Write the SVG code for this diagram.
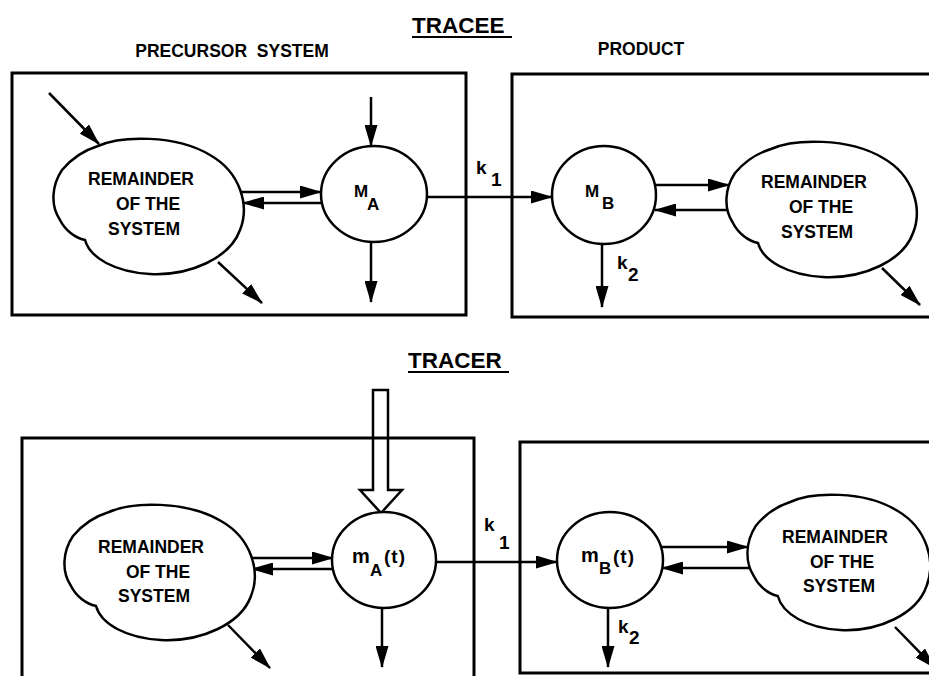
<svg xmlns="http://www.w3.org/2000/svg" width="929" height="676" viewBox="0 0 929 676">
<style>
text{font-family:"Liberation Sans",Arial,sans-serif;font-weight:bold;fill:#000}
.t{font-size:17.5px;text-anchor:middle}
.h{font-size:22.5px}
.lab{font-size:17px}
.k{font-size:19px}
.box{fill:none;stroke:#000;stroke-width:3}
.node{fill:#fff;stroke:#000;stroke-width:2.5}
.c{fill:none;stroke:#000;stroke-width:2.5;marker-end:url(#ah)}
.u{stroke:#000;stroke-width:2}
</style>
<defs>
<marker id="ah" markerUnits="userSpaceOnUse" markerWidth="22" markerHeight="13" viewBox="0 0 22 13" refX="21" refY="6.5" orient="auto">
<path d="M0,0 L22,6.5 L0,13 Z" fill="#000"/>
</marker>
<path id="blob" d="M 44,7 C 66,-3 121,-5 156,16 C 186,33 196,66 186,91 C 176,119 136,137 96,135 C 61,133 36,119 31,101 C 21,99 11,91 6,81 C -4,66 -2,46 8,31 C 18,19 31,11 44,7 Z"/>
</defs>

<g id="titles">
<text class="h" x="412" y="33">TRACEE</text>
<line class="u" x1="412" y1="37" x2="512" y2="37"/>
<text class="t" x="232" y="57" style="white-space:pre">PRECURSOR  SYSTEM</text>
<text class="t" x="641" y="55">PRODUCT</text>
<text class="h" x="408" y="368">TRACER</text>
<line class="u" x1="408" y1="372" x2="509" y2="372"/>
</g>

<g id="boxes">
<rect id="box-precursor-tracee" class="box" x="12" y="73" width="454" height="242"/>
<rect id="box-product-tracee" class="box" x="512" y="74" width="440" height="243"/>
<rect id="box-precursor-tracer" class="box" x="22" y="438" width="452" height="260"/>
<rect id="box-product-tracer" class="box" x="520" y="442" width="440" height="231"/>
</g>

<g id="connectors">
<line class="c" x1="49" y1="93" x2="99" y2="144"/>
<line class="c" x1="218" y1="262" x2="262" y2="303"/>
<line class="c" x1="238" y1="192" x2="321" y2="192"/>
<line class="c" x1="321" y1="203" x2="243" y2="203"/>
<line class="c" x1="371" y1="97" x2="371" y2="146"/>
<line class="c" x1="371" y1="242" x2="371" y2="302"/>
<line class="c" x1="427" y1="197" x2="552" y2="197"/>
<line class="c" x1="655" y1="185" x2="729" y2="185"/>
<line class="c" x1="730" y1="210" x2="655" y2="210"/>
<line class="c" x1="602" y1="244" x2="602" y2="307"/>
<line class="c" x1="882" y1="268" x2="920" y2="305"/>

<polygon points="373,390 388,390 388,490 402,490 381,513 360,490 373,490" fill="none" stroke="#000" stroke-width="2.5"/>
<line class="c" x1="248" y1="558" x2="333" y2="558"/>
<line class="c" x1="333" y1="569" x2="252" y2="569"/>
<line class="c" x1="228" y1="625" x2="270" y2="668"/>
<line class="c" x1="382" y1="608" x2="382" y2="667"/>
<line class="c" x1="436" y1="562" x2="557" y2="562"/>
<line class="c" x1="662" y1="547" x2="748" y2="547"/>
<line class="c" x1="750" y1="568" x2="662" y2="568"/>
<line class="c" x1="608" y1="608" x2="608" y2="667"/>
<line class="c" x1="895" y1="627" x2="935" y2="668"/>
<text class="k" x="476" y="174">k</text><text class="k" x="491" y="186">1</text>
<text class="k" x="617" y="269">k</text><text class="k" x="628" y="281">2</text>
<text class="k" x="484" y="531">k</text><text class="k" x="499" y="549">1</text>
<text class="k" x="618" y="633">k</text><text class="k" x="629" y="644">2</text>
</g>

<g id="remainder-precursor-tracee">
<use href="#blob" class="node" transform="translate(54,139)"/>
<text class="t" x="141" y="185">REMAINDER</text>
<text class="t" x="148" y="210">OF THE</text>
<text class="t" x="144" y="235">SYSTEM</text>
</g>
<g id="MA">
<ellipse class="node" cx="374" cy="194" rx="53" ry="48"/>
<text class="lab" x="354" y="197">M</text><text class="lab" x="367" y="210">A</text>
</g>
<g id="MB">
<ellipse class="node" cx="604" cy="195" rx="52" ry="49"/>
<text class="lab" x="585" y="197">M</text><text class="lab" x="602" y="209">B</text>
</g>
<g id="remainder-product-tracee">
<use href="#blob" class="node" transform="translate(727,142)"/>
<text class="t" x="814" y="188">REMAINDER</text>
<text class="t" x="821" y="213">OF THE</text>
<text class="t" x="817" y="238">SYSTEM</text>
</g>

<g id="remainder-precursor-tracer">
<use href="#blob" class="node" transform="translate(65,505)"/>
<text class="t" x="151" y="553">REMAINDER</text>
<text class="t" x="158" y="578">OF THE</text>
<text class="t" x="154" y="602">SYSTEM</text>
</g>
<g id="mA">
<ellipse class="node" cx="384" cy="560" rx="52" ry="48"/>
<text x="352" y="563" style="font-size:20px">m</text>
<text x="370" y="576" style="font-size:17px">A</text>
<text x="384" y="563" style="font-size:19px;letter-spacing:1px">(t)</text>
</g>
<g id="mB">
<ellipse class="node" cx="610" cy="560" rx="53" ry="48"/>
<text x="581" y="562" style="font-size:20px">m</text>
<text x="599" y="574" style="font-size:17px">B</text>
<text x="613" y="563" style="font-size:19px;letter-spacing:1px">(t)</text>
</g>
<g id="remainder-product-tracer">
<use href="#blob" class="node" transform="translate(748,495) scale(0.96,1)"/>
<text class="t" x="835" y="543">REMAINDER</text>
<text class="t" x="842" y="568">OF THE</text>
<text class="t" x="839" y="592">SYSTEM</text>
</g>
</svg>
